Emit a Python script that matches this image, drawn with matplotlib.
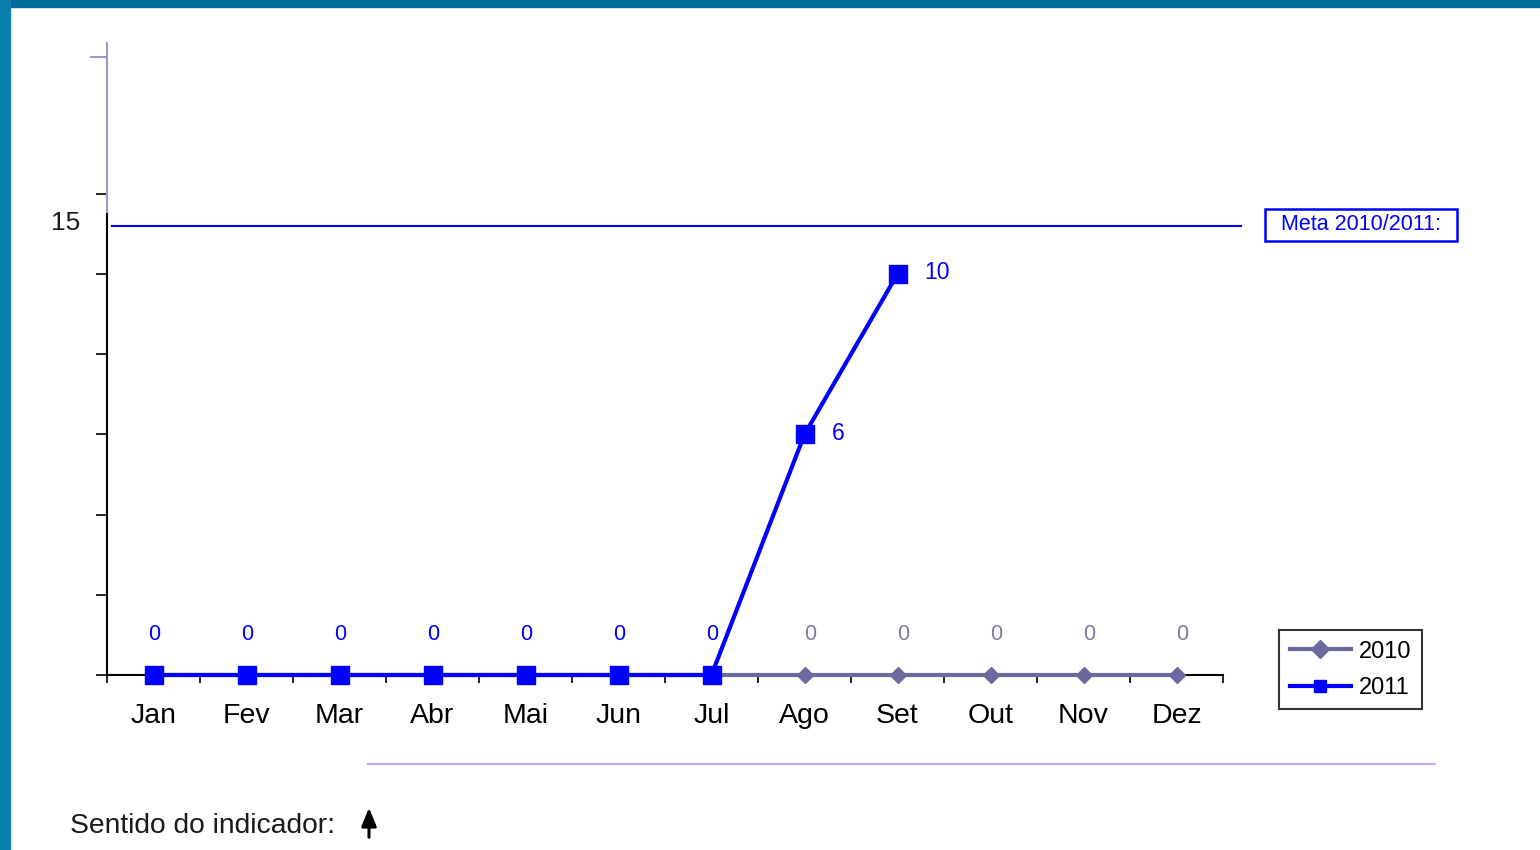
import matplotlib.pyplot as plt
from matplotlib.patches import Rectangle
from matplotlib.lines import Line2D

plt.rcParams['font.family'] = ['Liberation Sans', 'DejaVu Sans']

months = ["Jan", "Fev", "Mar", "Abr", "Mai", "Jun", "Jul", "Ago", "Set", "Out", "Nov", "Dez"]
values_2010 = [0, 0, 0, 0, 0, 0, 0, 0, 0, 0, 0, 0]
values_2011 = [0, 0, 0, 0, 0, 0, 0, 6, 10]
meta_value = 11.2
meta_label = "15"

BLUE = "#0000ff"
SLATE = "#6a6a9c"
LAVENDER = "#9a9ac8"

fig = plt.figure(figsize=(15.4, 8.5), dpi=100)
fig.patch.set_facecolor("white")

# blue frame of the slide (top and left)
fig.patches.append(Rectangle((0, 1 - 7 / 850), 1, 7 / 850, transform=fig.transFigure,
                             color="#006a99", zorder=0))
fig.patches.append(Rectangle((0, 0), 10 / 1540, 1, transform=fig.transFigure,
                             color="#0a7fae", zorder=0))

ax = fig.add_axes([107 / 1540, (850 - 675) / 850, (1223 - 107) / 1540, (675 - 43) / 850])
ax.set_xlim(-0.5, 11.5)
ax.set_ylim(0, 15.76)

x = list(range(len(months)))

# 2010 series
ax.plot(x, values_2010, color=SLATE, lw=3, marker="D", ms=8, mec=SLATE, mfc=SLATE,
        label="2010", zorder=3, clip_on=False)
for i, v in enumerate(values_2010):
    if i >= len(values_2011) or values_2011[i] != 0:
        ax.annotate(str(v), (i, v), xytext=(6, 41), textcoords="offset pixels",
                    ha="center", va="center", fontsize=15.5, color="#7c7ca6")

# 2011 series
ax.plot(x[:len(values_2011)], values_2011, color=BLUE, lw=3, marker="s", ms=13,
        mec=BLUE, mfc=BLUE, label="2011", zorder=4, clip_on=False)
for i, v in enumerate(values_2011):
    if v == 0:
        ax.annotate(str(v), (i, v), xytext=(1, 41), textcoords="offset pixels",
                    ha="center", va="center", fontsize=15.5, color=BLUE)
    else:
        ax.annotate(str(v), (i, v), xytext=(27, 1), textcoords="offset pixels",
                    ha="left", va="center", fontsize=16.5, color=BLUE)

# meta line
ax.plot([-0.45, 11.69], [meta_value, meta_value], color=BLUE, lw=1.5, clip_on=False, zorder=2)
ax.annotate(meta_label, (-0.5, meta_value), xytext=(-27, 3), textcoords="offset pixels",
            ha="right", va="center", fontsize=19, color="#1a1a1a", annotation_clip=False)
fig.patches.append(Rectangle((1265 / 1540, (850 - 241) / 850), 192 / 1540, 32 / 850,
                             transform=fig.transFigure, fc="white", ec=BLUE, lw=1.8))
fig.text(1361 / 1540, (850 - 225) / 850, "Meta 2010/2011:", ha="center", va="center",
         fontsize=15.5, color=BLUE)

# axes styling
for s in ["top", "right", "left"]:
    ax.spines[s].set_visible(False)
ax.spines["bottom"].set_color("black")
ax.spines["bottom"].set_linewidth(1.5)
ax.axvline(-0.5, ymin=0, ymax=11.55 / 15.76, color="black", lw=1.5, clip_on=False)
ax.axvline(-0.5, ymin=11.55 / 15.76, ymax=1, color=LAVENDER, lw=1.5, clip_on=False)

ax.set_xticks(x)
ax.set_xticklabels(months, fontsize=20.5)
ax.set_xticks([i - 0.5 for i in range(13)], minor=True)
ax.tick_params(axis="x", which="major", length=0, pad=20)
ax.tick_params(axis="x", which="minor", length=6, width=1.2, direction="out", color="black")
ax.set_yticks(range(0, 13, 2))
ax.set_yticklabels([])
ax.set_yticks([15.4], minor=True)
ax.tick_params(axis="y", which="major", length=8, width=1.2, color="black")
ax.tick_params(axis="y", which="minor", length=12, width=1.5, color=LAVENDER, labelleft=False)

leg = ax.legend(loc="upper left", bbox_to_anchor=(1279 / 1540, (850 - 630) / 850),
                bbox_transform=fig.transFigure, frameon=True, fancybox=False,
                fontsize=17, handlelength=2.6, handletextpad=0.35, borderpad=0.45,
                labelspacing=0.6, borderaxespad=0)
leg.get_frame().set_edgecolor("black")
leg.get_frame().set_linewidth(1.5)
for h in leg.legend_handles:
    h.set_markersize(9)

# separator and indicator direction
fig.add_artist(Line2D([368 / 1540, 1435 / 1540], [(850 - 764) / 850] * 2,
                      color="#c8a6f2", lw=1.5))
fig.text(70 / 1540, (850 - 826) / 850, "Sentido do indicador:", ha="left", va="center",
         fontsize=20.3, color="#1a1a1a")
ax_arrow = fig.add_axes([0, 0, 1, 1], facecolor="none")
ax_arrow.set_axis_off()
ax_arrow.set_xlim(0, 1540)
ax_arrow.set_ylim(850, 0)
ax_arrow.annotate("", xy=(369, 805), xytext=(369, 840),
                  arrowprops=dict(arrowstyle="-|>,head_width=0.45,head_length=1.1",
                                  color="black", lw=2.2))

fig.savefig("out.png", dpi=100)
